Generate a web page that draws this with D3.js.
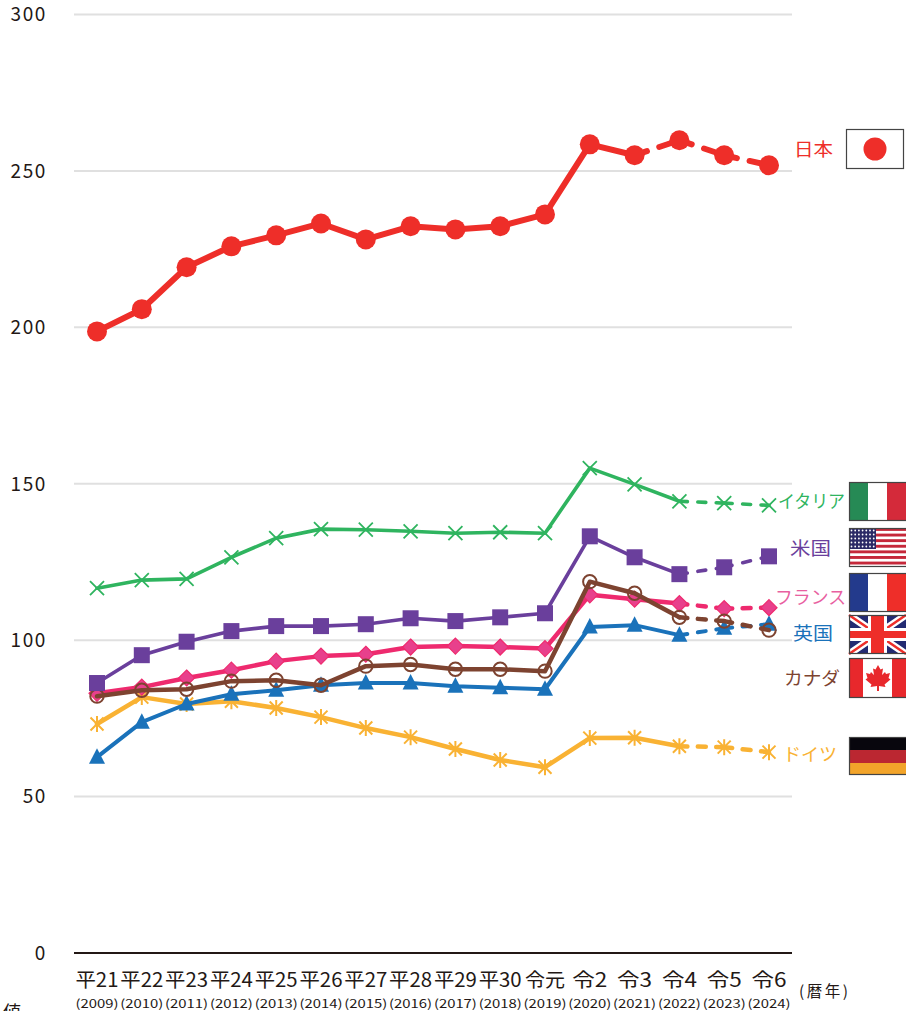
<!DOCTYPE html>
<html><head><meta charset="utf-8">
<script src="https://cdn.jsdelivr.net/npm/d3@7"></script>
<style>html,body{margin:0;padding:0;background:#fff;overflow:hidden}svg{display:block}
text{font-family:"Noto Sans CJK JP","Noto Sans",sans-serif}</style></head><body>
<svg id="c" width="906" height="1011"></svg>
<script>
const eras=["平21","平22","平23","平24","平25","平26","平27","平28","平29","平30","令元","令2","令3","令4","令5","令6"];
const years=["2009","2010","2011","2012","2013","2014","2015","2016","2017","2018","2019","2020","2021","2022","2023","2024"];
const yTicks=[0,50,100,150,200,250,300];
const japan=[198.7,205.8,219.2,225.9,229.4,233.2,228.1,232.3,231.3,232.3,236.1,258.5,255,259.8,255,251.8];
const italy=[116.6,119.2,119.6,126.5,132.6,135.5,135.3,134.8,134.2,134.5,134.2,155,149.8,144.4,143.8,143.1];
const usa=[86.3,95.2,99.5,102.9,104.5,104.5,105.1,107,106.1,107.3,108.6,133.2,126.5,121.1,123.3,126.8];
const france=[83,85,87.9,90.4,93.3,94.9,95.5,97.8,98.1,97.8,97.3,114.5,113.1,111.7,110.1,110.4];
const uk=[62.6,73.8,79.6,82.7,84,85.6,86.3,86.3,85.3,84.8,84.3,104.2,104.8,101.6,103.8,105.1];
const canada=[82.1,84,84.3,86.9,87.2,85.6,91.7,92.2,90.7,90.7,90.1,118.7,115,107.3,106.1,103.2];
const germany=[73.2,81.8,79.6,80.5,78.3,75.4,71.9,69,65.2,61.7,59.4,68.7,68.8,66.1,65.8,64.2];

const svg=d3.select("#c");
const x=d3.scalePoint().domain(eras).range([97,769]);
const y=d3.scaleLinear().domain([0,300]).range([953,14.5]);
const line=d3.line().x(d=>x(d.e)).y(d=>y(d.v));

svg.append("g").selectAll("line").data(yTicks.filter(d=>d>0)).join("line")
 .attr("x1",74).attr("x2",792).attr("y1",y).attr("y2",y).attr("stroke","#e0e0e0").attr("stroke-width",2);
svg.append("line").attr("x1",74).attr("x2",792).attr("y1",y(0)).attr("y2",y(0)).attr("stroke","#231815").attr("stroke-width",2);
svg.append("g").selectAll("text").data(yTicks).join("text")
 .attr("x",47).attr("y",d=>y(d)).attr("dy","0.36em").attr("text-anchor","end")
 .attr("font-size",19).attr("letter-spacing",1.6).attr("fill","#231815").text(d=>d);

svg.append("g").selectAll("text").data(eras).join("text")
 .attr("x",d=>x(d)).attr("y",987).attr("text-anchor","middle").attr("font-size",19.5)
 .attr("fill","#231815").attr("textLength",(d,i)=>i<10?43:(i==10?40:35)).attr("lengthAdjust","spacingAndGlyphs").text(d=>d);
svg.append("g").selectAll("text").data(years).join("text")
 .attr("x",(d,i)=>x(eras[i])).attr("y",1008).attr("text-anchor","middle").attr("font-size",11.5)
 .attr("fill","#231815").attr("textLength",43).attr("lengthAdjust","spacingAndGlyphs").text(d=>"("+d+")");
svg.append("text").attr("x",799).attr("y",997).attr("font-size",15.5).attr("fill","#231815").attr("textLength",49).attr("lengthAdjust","spacing").text("(暦年)");
svg.append("text").attr("x",3).attr("y",1019).attr("font-size",18).attr("fill","#231815").text("値");

function marker(g,type,color,d){
  const px=x(d.e),py=y(d.v);
  const t=g.append("g").attr("transform",`translate(${px},${py})`);
  if(type==="circle") t.append("circle").attr("r",10).attr("fill",color);
  if(type==="x"){const r=7;t.append("path").attr("d",`M${-r},${-r}L${r},${r}M${-r},${r}L${r},${-r}`).attr("stroke",color).attr("stroke-width",1.8).attr("fill","none");}
  if(type==="square") t.append("rect").attr("x",-8).attr("y",-8).attr("width",16).attr("height",16).attr("fill",color);
  if(type==="diamond") t.append("path").attr("d","M0,-8L8,0L0,8L-8,0Z").attr("fill","#e8408c").attr("stroke",color).attr("stroke-width",1.2);
  if(type==="triangle") t.append("path").attr("d","M0,-9L8,6.5L-8,6.5Z").attr("fill",color);
  if(type==="ring") t.append("circle").attr("r",6.7).attr("fill","none").attr("stroke",color).attr("stroke-width",2);
  if(type==="star"){const r=6.5;t.append("path").attr("d",`M${-r},${-r}L${r},${r}M${-r},${r}L${r},${-r}M0,${-r-1.5}L0,${r+1.5}`).attr("stroke",color).attr("stroke-width",2).attr("fill","none");}
}
const series=[
 {v:germany,c:"#f9b233",w:4.5,m:"star",solid:13},
 {v:uk,c:"#1a72ba",w:4,m:"triangle",solid:13},
 {v:france,c:"#ee2a6e",w:4.5,m:"diamond",solid:13},
 {v:canada,c:"#7d4330",w:4.5,m:"ring",solid:13},
 {v:usa,c:"#6a3f9c",w:3.6,m:"square",solid:13},
 {v:italy,c:"#2fb45f",w:3.6,m:"x",solid:13},
 {v:japan,c:"#ee2e29",w:6,m:"circle",solid:12,single:true}
];
series.forEach(s=>{
  const pts=s.v.map((v,i)=>({e:eras[i],v}));
  const g=svg.append("g");
  g.append("path").attr("d",line(pts.slice(0,s.solid+1))).attr("fill","none").attr("stroke",s.c).attr("stroke-width",s.w).attr("stroke-linejoin","round").attr("stroke-linecap","round");
  d3.pairs(pts.slice(s.solid)).forEach(seg=>{
    const p=g.append("path").attr("d",line(seg)).attr("fill","none").attr("stroke",s.c).attr("stroke-width",s.w).attr("stroke-linecap","round");
    const L=p.node().getTotalLength();
    if(s.single){p.attr("stroke-dasharray",`13 13 ${L}`);}
    else{const st=8,mid=8,gap=(L-2*st-mid)/2;p.attr("stroke-dasharray",`${st} ${gap} ${mid} ${gap} ${st}`);}
  });
  pts.forEach(d=>marker(g,s.m,s.c,d));
});

const lab=(t,xx,yy,c,w)=>svg.append("text").attr("x",xx).attr("y",yy).attr("font-size",18).attr("fill",c).attr("textLength",w).attr("lengthAdjust","spacingAndGlyphs").text(t);
lab("日本",794,156,"#ee2e29",39);
lab("イタリア",778,508,"#2fb45f",67);
lab("米国",790,555,"#6a3f9c",41);
lab("フランス",775,604,"#e8609f",71);
lab("英国",793,640,"#1a72ba",40);
lab("カナダ",784,685,"#7d4330",56);
lab("ドイツ",783,761,"#f9b233",54);

function frame(x0,y0,w,h){svg.append("rect").attr("x",x0+.5).attr("y",y0+.5).attr("width",w-1).attr("height",h-1).attr("fill","none").attr("stroke","#444").attr("stroke-width",1.2);}
function rect(x0,y0,w,h,c){svg.append("rect").attr("x",x0).attr("y",y0).attr("width",w).attr("height",h).attr("fill",c);}
rect(846,129,57,39,"#fff");svg.append("circle").attr("cx",875).attr("cy",149).attr("r",11.5).attr("fill","#ee2e29");frame(846,129,58,40);
rect(849,482,19,39,"#268a55");rect(868,482,19,39,"#fff");rect(887,482,19,39,"#d42a3a");frame(849,482,59,39);
rect(849,528,57,39,"#fff");
d3.range(7).forEach(i=>rect(849,528+i*5.6,57,2.9,"#c5283a"));
rect(849,528,27,21,"#2b2a66");
d3.range(5).forEach(r=>d3.range(7).forEach(k=>svg.append("circle").attr("cx",851.5+k*3.7).attr("cy",530.5+r*4).attr("r",.9).attr("fill","#fff")));
frame(849,528,59,39);
rect(849,573,19,39,"#233a8c");rect(868,573,19,39,"#fff");rect(887,573,19,39,"#ee2e29");frame(849,573,59,39);
rect(849,615,57,39,"#232a72");
svg.append("path").attr("d","M849,615L906,654M849,654L906,615").attr("stroke","#fff").attr("stroke-width",7);
svg.append("path").attr("d","M849,615L906,654M849,654L906,615").attr("stroke","#ee2e29").attr("stroke-width",2.5);
rect(868,615,19,39,"#fff");rect(849,628,57,13,"#fff");
rect(871,615,13,39,"#ee2e29");rect(849,631,57,7,"#ee2e29");
frame(849,615,59,39);
rect(849,658,57,40,"#e8282c");rect(863,658,29,40,"#fff");
svg.append("path").attr("transform","translate(878,678)").attr("d","M0,-13L2.5,-8.5L5,-9.5L4,-3L7,-6L8,-4L12,-5L10.5,0L12.5,1.5L6.5,6.5L7.5,9L1,8L1,13L-1,13L-1,8L-7.5,9L-6.5,6.5L-12.5,1.5L-10.5,0L-12,-5L-8,-4L-7,-6L-4,-3L-5,-9.5L-2.5,-8.5Z").attr("fill","#e8282c");
frame(849,658,59,40);
rect(849,737,57,13,"#08060d");rect(849,750,57,13,"#bb2731");rect(849,763,57,12,"#f2a42a");frame(849,737,59,38);
</script></body></html>
